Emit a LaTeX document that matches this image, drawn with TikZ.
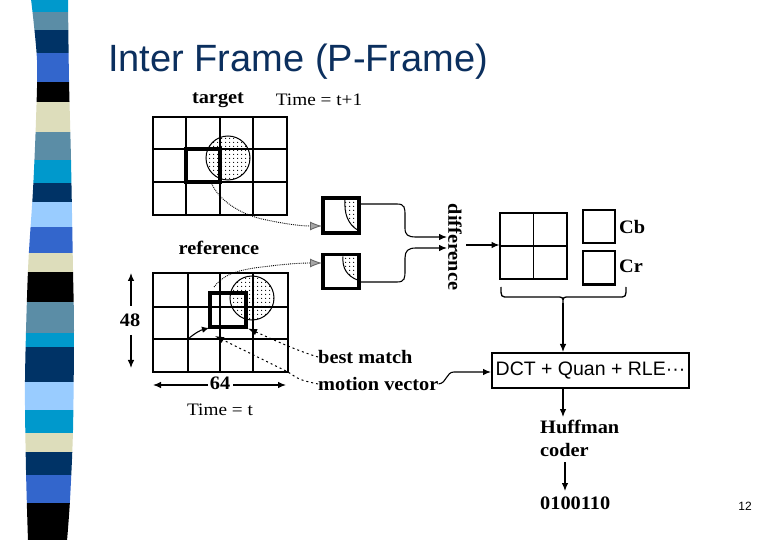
\documentclass[tikz,border=0pt]{standalone}
\usepackage{fontspec}
\setmainfont{Liberation Serif}
\newfontfamily\lblfont[FakeStretch=1.07]{Liberation Serif}
\newfontfamily\tfont[FakeStretch=1.1]{Liberation Serif}
\newfontfamily\sansf{Liberation Sans}
\usetikzlibrary{arrows.meta,patterns,patterns.meta}
\definecolor{sCyan}{HTML}{0099CC}
\definecolor{sSteel}{HTML}{5B8DA6}
\definecolor{sNavy}{HTML}{003366}
\definecolor{sRoyal}{HTML}{3366CC}
\definecolor{sBeige}{HTML}{DDDDBB}
\definecolor{sLight}{HTML}{99CCFF}
\definecolor{titleblue}{HTML}{0B2F5E}
\tikzdeclarepattern{name=sparsedots, type=uncolored,
  bounding box={(0pt,0pt) and (4pt,4pt)}, tile size={(4pt,4pt)},
  code={\fill (2pt,2pt) circle (0.75pt);}}
\begin{document}
\begin{tikzpicture}[x=1pt,y=-1pt,
  lbl/.style={font=\lblfont\bfseries\fontsize{19}{23}\selectfont, inner sep=0pt},
  tlbl/.style={font=\tfont\fontsize{17.5}{20}\selectfont, inner sep=0pt},
  gridline/.style={line width=1.1pt},
  thickbox/.style={draw, line width=3.2pt, inner sep=0pt},
  plainbox/.style={draw, line width=1.4pt, inner sep=0pt},
  dotfill/.style={pattern=sparsedots},
  arr/.style={-{Latex[length=8pt,width=6.5pt]}, line width=1.1pt},
  garr/.style={densely dotted, line width=0.9pt, -{Latex[length=12pt,width=9pt,fill=gray!70,color=gray!80!black]}},
  dasharr/.style={dash pattern=on 2pt off 3pt, line width=1pt, -{Latex[length=9pt,width=6.5pt]}},
]
\useasboundingbox (0,0) rectangle (780,540);
\fill[white] (0,0) rectangle (780,540);

% decorative stripes
\begin{scope}
\clip plot[smooth] coordinates {(31,-1) (37,60) (36,120) (33,190) (28,270) (25,380) (26,470) (28,541)}
  -- plot[smooth] coordinates {(67,541) (70,500) (73,430) (74,330) (73,270) (71,160) (69,80) (68,-1)} -- cycle;
\foreach \ya/\yb/\c in {0/12/sCyan, 12/30/sSteel, 30/53/sNavy, 53/82/sRoyal, 82/102/black,
  102/132/sBeige, 132/160/sSteel, 160/183/sCyan, 183/202/sNavy, 202/227/sLight, 227/253/sRoyal,
  253/272/sBeige, 272/302/black, 302/333/sSteel, 333/347/sCyan, 347/382/sNavy, 382/410/sLight,
  410/433/sCyan, 433/452/sBeige, 452/475/sNavy, 475/503/sRoyal, 503/541/black}
  \fill[\c] (0,\ya) rectangle (100,\yb);
\end{scope}

% title
\node[anchor=base west, font=\sansf\fontsize{38}{44}\selectfont, text=titleblue, inner sep=0pt] (title) at (108,72) {Inter Frame (P-Frame)};

% labels top
\node[lbl] (ltarget) at (218,100) {target};
\node[tlbl] (ltime1) at (319,100) {Time = t+1};
\node[lbl] (lref) at (219,248) {reference};
\node[tlbl] (ltime0) at (220,410) {Time = t};

% target grid
\fill[dotfill] (228,158) circle (22);
\draw[line width=1pt] (228,158) circle (22);
\node[draw, gridline, minimum width=134pt, minimum height=98pt, inner sep=0pt] (tgrid) at (220,166) {};
\foreach \x in {186,220,253} \draw[gridline] (\x,117) -- (\x,215);
\foreach \y in {149,182} \draw[gridline] (153,\y) -- (287,\y);
\node[thickbox, minimum width=34pt, minimum height=33pt] (tsq) at (203,165.5) {};

% reference grid
\fill[dotfill] (252,298) circle (22);
\draw[line width=1pt] (252,298) circle (22);
\node[draw, gridline, minimum width=135pt, minimum height=99pt, inner sep=0pt] (rgrid) at (220.5,322.5) {};
\foreach \x in {188,220,253} \draw[gridline] (\x,273) -- (\x,372);
\foreach \y in {307,339} \draw[gridline] (153,\y) -- (288,\y);
\node[thickbox, minimum width=36pt, minimum height=34pt] (rsq) at (228,310) {};

% small blocks
\fill[dotfill] (345,199.5) .. controls (344,214) and (348,224) .. (357.5,230) -- (357.5,199.5) -- cycle;
\draw[line width=1pt] (345,199.5) .. controls (344,214) and (348,224) .. (357.5,230);
\node[thickbox, minimum width=36pt, minimum height=35pt] (b1) at (341,215.5) {};
\fill[dotfill] (343,256.5) .. controls (342,268) and (347,276) .. (357.5,280) -- (357.5,256.5) -- cycle;
\draw[line width=1pt] (343,256.5) .. controls (342,268) and (347,276) .. (357.5,280);
\node[thickbox, minimum width=36pt, minimum height=34pt] (b2) at (341,271.5) {};

% dotted arrows to blocks
\coordinate (tstart) at (211,182);
\coordinate (rstart) at (214,287);
\coordinate (b1in) at (322,226);
\coordinate (b2in) at (322,263);
\draw[garr] (tstart) .. controls (218,200) and (240,214) .. (262,219) .. controls (285,224) and (300,226) .. (b1in);
\draw[garr] (rstart) .. controls (222,276) and (235,270) .. (262,267) .. controls (285,264) and (300,263) .. (b2in);

% difference
\node[lbl, rotate=-90] (diff) at (455,247) {difference};
\draw[arr] (359.5,204) -- (397,204) .. controls (405,204) and (405,208) .. (405,216) -- (405,228) .. controls (405,235) and (408,237) .. (416,237) -- (447,237);
\draw[arr] (359.5,282) -- (397,282) .. controls (405,282) and (405,278) .. (405,270) -- (405,258) .. controls (405,251) and (408,248) .. (416,248) -- (447,248);

% YCbCr blocks
\node[plainbox, minimum width=67pt, minimum height=66pt] (ygrid) at (533.5,246) {};
\draw[line width=1.3pt] (ygrid.north) -- (ygrid.south);
\draw[line width=1.3pt] (ygrid.west) -- (ygrid.east);
\coordinate (dout) at (466,245);
\coordinate (yin) at (499.5,245);
\draw[arr] (dout) -- (yin);
\node[plainbox, minimum width=32pt, minimum height=33pt] (cb) at (599,226.5) {};
\node[plainbox, minimum width=32pt, minimum height=33pt] (cr) at (599,267.5) {};
\draw[line width=2.4pt] (cr.south west) -- (cr.south east);
\node[lbl, anchor=west] (lcb) at (619,227) {Cb};
\node[lbl, anchor=west] (lcr) at (619,266) {Cr};

% brace
\coordinate (btip) at (563,303);
\draw[line width=1.3pt] (501,287) .. controls (501,297) .. (508,297) -- (556,297) .. controls (563,297) .. (btip) .. controls (563,297) .. (570,297) -- (619,297) .. controls (626,297) .. (626,287);

% DCT box
\node[draw, line width=2.4pt, minimum width=197pt, minimum height=35pt, inner sep=0pt,
  font=\sansf\fontsize{19.5}{22}\selectfont] (dct) at (590.5,370.5) {DCT + Quan + RLE···};
\draw[arr] (btip) -- (563,352);

% Huffman
\node[lbl, align=left, anchor=west] (huff) at (540,438.5) {Huffman\\coder};
\draw[arr] (563,388) -- (563,417);
\node[lbl, anchor=west] (code) at (540,503) {0100110};
\draw[arr] (565,462) -- (565,491);

% best match / motion vector
\node[lbl, anchor=west] (bm) at (318,357) {best match};
\node[lbl, anchor=west] (mv) at (318,384) {motion vector};
\draw[dasharr] (bm.west) .. controls (295,350) and (272,339) .. (248,328.5);
\draw[dasharr] (mv.west) .. controls (300,380) .. (288,372) -- (215,336);
\draw[arr, -{Latex[length=7pt,width=6.5pt]}] (188,339) .. controls (195,333) and (201,330) .. (209,328);
\coordinate (dctin) at (491,372);
\draw[arr] (mv.east) .. controls (447,383) and (446,372) .. (454,372) -- (dctin);

% dimensions
\node[lbl] (h48) at (130,320) {48};
\draw[arr] (131,306) -- (131,273);
\draw[arr] (131,335) -- (131,368);
\node[lbl] (w64) at (220,383) {64};
\draw[arr] (208,385) -- (153,385);
\draw[arr] (233,385) -- (286,385);

% page number
\node[font=\sansf\fontsize{12}{14}\selectfont, anchor=east, inner sep=0pt] (pnum) at (752,506) {12};
\end{tikzpicture}
\end{document}
